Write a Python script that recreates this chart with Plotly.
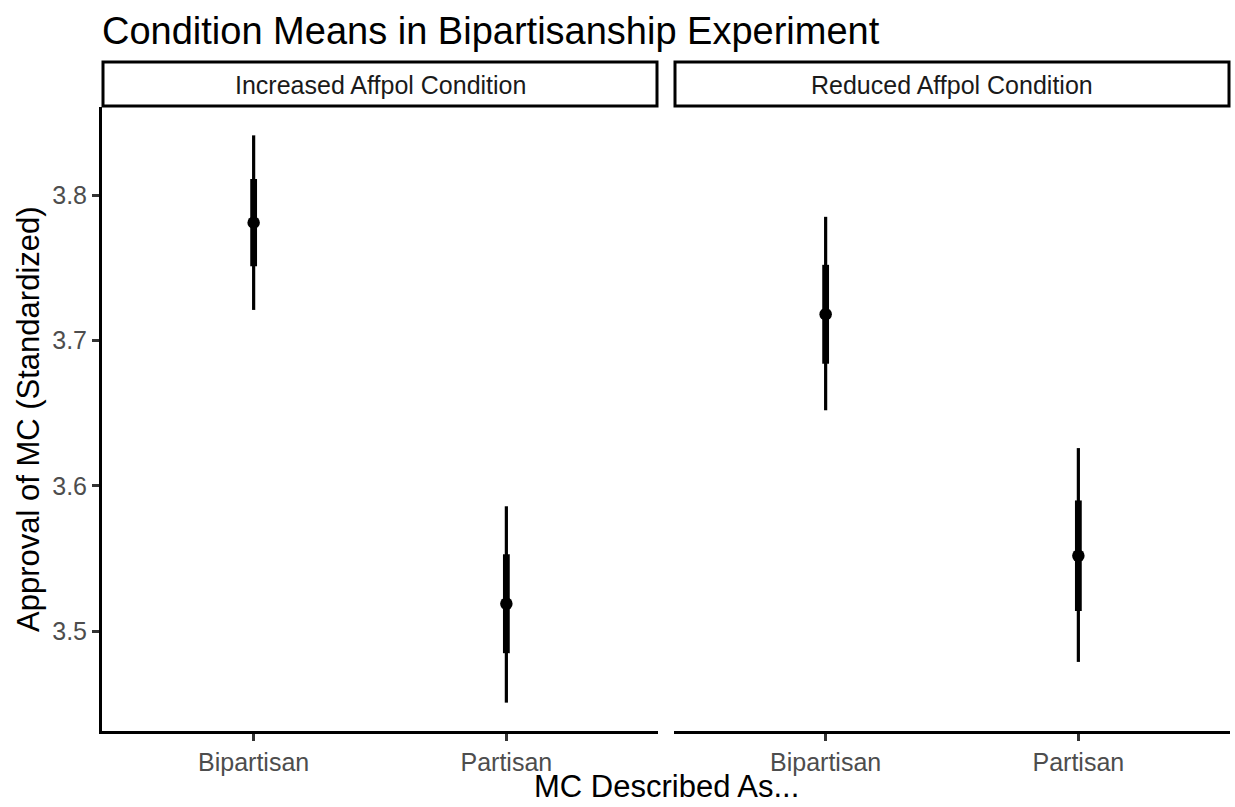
import plotly.graph_objects as go

# Condition means with 66% (thick) and 95% (thin) intervals
conditions = ["Increased Affpol Condition", "Reduced Affpol Condition"]
described_as = ["Bipartisan", "Partisan"]
means = [[3.781, 3.519], [3.718, 3.552]]
ci95_low = [[3.721, 3.451], [3.652, 3.479]]
ci95_high = [[3.841, 3.586], [3.785, 3.626]]
ci66_low = [[3.751, 3.485], [3.684, 3.514]]
ci66_high = [[3.811, 3.553], [3.752, 3.590]]
y_ticks = [3.5, 3.6, 3.7, 3.8]

W, H = 1235, 807
FONT = "Liberation Sans, Arial, Helvetica, sans-serif"

# panel geometry (pixels)
panels_px = [(102, 658), (674, 1230)]
plot_top, plot_bottom = 107, 731
strip_top = 62


def px_x(v):
    return v / W


def px_y(v):
    return 1 - v / H


fig = go.Figure()

cat_pos = list(range(1, len(described_as) + 1))

for p, cond in enumerate(conditions):
    xa = "x" if p == 0 else f"x{p + 1}"
    ya = "y" if p == 0 else f"y{p + 1}"
    thin_x, thin_y, thick_x, thick_y = [], [], [], []
    for i, pos in enumerate(cat_pos):
        thin_x += [pos, pos, None]
        thin_y += [ci95_low[p][i], ci95_high[p][i], None]
        thick_x += [pos, pos, None]
        thick_y += [ci66_low[p][i], ci66_high[p][i], None]
    fig.add_trace(go.Scatter(x=thin_x, y=thin_y, mode="lines",
                             line=dict(color="black", width=3.2),
                             xaxis=xa, yaxis=ya, showlegend=False, hoverinfo="skip"))
    fig.add_trace(go.Scatter(x=thick_x, y=thick_y, mode="lines",
                             line=dict(color="black", width=6.8),
                             xaxis=xa, yaxis=ya, showlegend=False, hoverinfo="skip"))
    fig.add_trace(go.Scatter(x=cat_pos, y=means[p], mode="markers",
                             marker=dict(color="black", size=12.5),
                             xaxis=xa, yaxis=ya, showlegend=False))

y_range = [3.4315, 3.8605]
tick_font = dict(family=FONT, size=25, color="#4D4D4D")

layout = dict(
    width=W, height=H,
    margin=dict(l=0, r=0, t=0, b=0),
    paper_bgcolor="white", plot_bgcolor="white",
    showlegend=False,
)

for p, (x0, x1) in enumerate(panels_px):
    xkey = "xaxis" if p == 0 else f"xaxis{p + 1}"
    ykey = "yaxis" if p == 0 else f"yaxis{p + 1}"
    ya = "y" if p == 0 else f"y{p + 1}"
    xa = "x" if p == 0 else f"x{p + 1}"
    layout[xkey] = dict(
        domain=[px_x(x0), px_x(x1)], anchor=ya,
        range=[0.4, len(described_as) + 0.6],
        tickvals=cat_pos, ticktext=described_as,
        showgrid=False, zeroline=False,
        showline=True, linecolor="black", linewidth=3,
        ticks="outside", ticklen=7, tickwidth=2.5, tickcolor="#333333",
        tickfont=tick_font, fixedrange=True,
    )
    layout[ykey] = dict(
        domain=[px_y(plot_bottom), px_y(plot_top)], anchor=xa,
        range=y_range,
        tickvals=y_ticks, ticktext=[f"{v:.1f}" for v in y_ticks],
        showgrid=False, zeroline=False,
        showline=(p == 0), linecolor="black", linewidth=3,
        ticks="outside" if p == 0 else "", ticklen=7, tickwidth=2.5, tickcolor="#333333",
        showticklabels=(p == 0), tickfont=tick_font, fixedrange=True,
    )

fig.update_layout(**layout)

# facet strips
for p, (x0, x1) in enumerate(panels_px):
    fig.add_shape(type="rect", xref="paper", yref="paper",
                  x0=px_x(x0 + 1), x1=px_x(x1 - 1),
                  y0=px_y(plot_top - 1), y1=px_y(strip_top),
                  line=dict(color="black", width=3), fillcolor="white")
    fig.add_annotation(text=conditions[p], xref="paper", yref="paper",
                       x=px_x((x0 + x1) / 2), y=px_y((strip_top + plot_top) / 2),
                       xanchor="center", yanchor="middle", showarrow=False,
                       font=dict(family=FONT, size=25, color="#1A1A1A"))

# title and axis titles
fig.add_annotation(text="Condition Means in Bipartisanship Experiment",
                   xref="paper", yref="paper", x=px_x(100), y=px_y(31),
                   xanchor="left", yanchor="middle", showarrow=False,
                   font=dict(family=FONT, size=38, color="black"))
fig.add_annotation(text="MC Described As...", xref="paper", yref="paper",
                   x=px_x((panels_px[0][0] + panels_px[1][1]) / 2), y=px_y(786),
                   xanchor="center", yanchor="middle", showarrow=False,
                   font=dict(family=FONT, size=31, color="black"))
fig.add_annotation(text="Approval of MC (Standardized)", xref="paper", yref="paper",
                   x=px_x(28), y=px_y((plot_top + plot_bottom) / 2),
                   xanchor="center", yanchor="middle", textangle=-90, showarrow=False,
                   font=dict(family=FONT, size=31, color="black"))

fig.write_html("out.html")
